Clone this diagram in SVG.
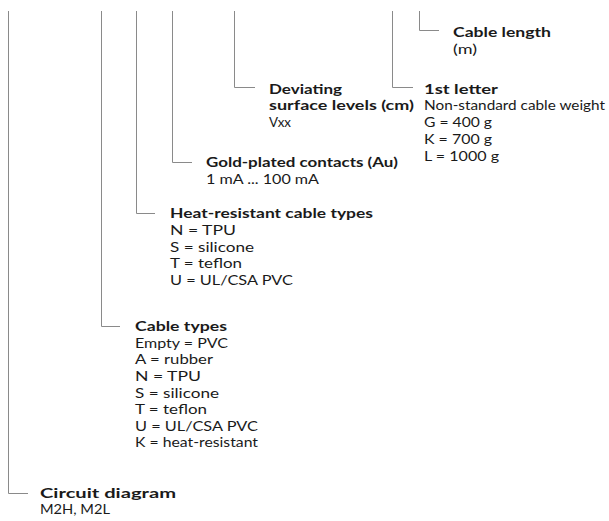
<svg xmlns="http://www.w3.org/2000/svg" width="609" height="521" viewBox="0 0 609 521">
<style>
.c{fill:none;stroke:#8a8a8a;stroke-width:1}
text{font-family:Lato,"Open Sans",sans-serif;font-size:14px;fill:#1a1a1a}
.b{font-weight:bold}
</style>
<rect width="609" height="521" fill="#fff"/>
<g id="connectors">
<polyline class="c" points="8.5,11 8.5,493.5 28,493.5"/>
<polyline class="c" points="101.5,11 101.5,326.5 120,326.5"/>
<polyline class="c" points="136.5,11 136.5,213.5 155,213.5"/>
<polyline class="c" points="172.5,11 172.5,162.5 192,162.5"/>
<polyline class="c" points="234.5,11 234.5,87.5 255,87.5"/>
<polyline class="c" points="392.5,11 392.5,87.5 413,87.5"/>
<polyline class="c" points="419.5,11 419.5,30.5 439,30.5"/>
</g>
<g id="cable-length">
<text x="453" y="37" class="b" textLength="98" lengthAdjust="spacingAndGlyphs">Cable length</text>
<text x="453" y="54" textLength="24" lengthAdjust="spacingAndGlyphs">(m)</text>
</g>
<g id="first-letter">
<text x="424" y="94" class="b" textLength="74" lengthAdjust="spacingAndGlyphs">1st letter</text>
<text x="424" y="110" textLength="181" lengthAdjust="spacingAndGlyphs">Non-standard cable weight</text>
<text x="424" y="127" textLength="68" lengthAdjust="spacingAndGlyphs">G = 400 g</text>
<text x="424" y="144" textLength="68" lengthAdjust="spacingAndGlyphs">K = 700 g</text>
<text x="424" y="161" textLength="75" lengthAdjust="spacingAndGlyphs">L = 1000 g</text>
</g>
<g id="deviating">
<text x="269" y="94" class="b" textLength="73" lengthAdjust="spacingAndGlyphs">Deviating</text>
<text x="269" y="110" class="b" textLength="145" lengthAdjust="spacingAndGlyphs">surface levels (cm)</text>
<text x="269" y="127" textLength="22" lengthAdjust="spacingAndGlyphs">Vxx</text>
</g>
<g id="gold">
<text x="206" y="167" class="b" textLength="192" lengthAdjust="spacingAndGlyphs">Gold-plated contacts (Au)</text>
<text x="206" y="184" textLength="113" lengthAdjust="spacingAndGlyphs">1 mA ... 100 mA</text>
</g>
<g id="heat-resistant">
<text x="170" y="218" class="b" textLength="203" lengthAdjust="spacingAndGlyphs">Heat-resistant cable types</text>
<text x="170" y="235" textLength="66" lengthAdjust="spacingAndGlyphs">N = TPU</text>
<text x="170" y="252" textLength="84" lengthAdjust="spacingAndGlyphs">S = silicone</text>
<text x="170" y="268" textLength="72" lengthAdjust="spacingAndGlyphs">T = teflon</text>
<text x="170" y="285" textLength="123" lengthAdjust="spacingAndGlyphs">U = UL/CSA PVC</text>
</g>
<g id="cable-types">
<text x="135" y="331" class="b" textLength="92" lengthAdjust="spacingAndGlyphs">Cable types</text>
<text x="135" y="348" textLength="93" lengthAdjust="spacingAndGlyphs">Empty = PVC</text>
<text x="135" y="364" textLength="78" lengthAdjust="spacingAndGlyphs">A = rubber</text>
<text x="135" y="381" textLength="66" lengthAdjust="spacingAndGlyphs">N = TPU</text>
<text x="135" y="398" textLength="84" lengthAdjust="spacingAndGlyphs">S = silicone</text>
<text x="135" y="414" textLength="72" lengthAdjust="spacingAndGlyphs">T = teflon</text>
<text x="135" y="431" textLength="123" lengthAdjust="spacingAndGlyphs">U = UL/CSA PVC</text>
<text x="135" y="447" textLength="123" lengthAdjust="spacingAndGlyphs">K = heat-resistant</text>
</g>
<g id="circuit">
<text x="40" y="498" class="b" textLength="136" lengthAdjust="spacingAndGlyphs">Circuit diagram</text>
<text x="40" y="514" textLength="70" lengthAdjust="spacingAndGlyphs">M2H, M2L</text>
</g>
</svg>
